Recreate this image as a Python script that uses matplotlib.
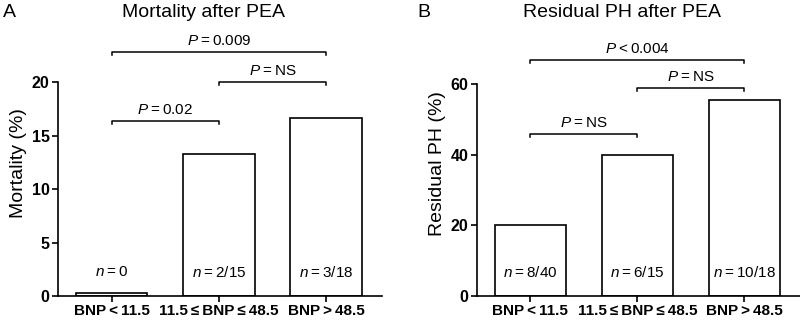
import matplotlib
matplotlib.use("Agg")
import matplotlib.pyplot as plt

plt.rcParams['font.family'] = ['Liberation Sans', 'DejaVu Sans']
plt.rcParams['mathtext.fontset'] = 'custom'
plt.rcParams['mathtext.rm'] = 'Liberation Sans'
plt.rcParams['mathtext.it'] = 'Liberation Sans:italic'

T = '\u2009'  # thin space
groups = ['BNP' + T + '<' + T + '11.5',
          '11.5' + T + '\u2264' + T + 'BNP' + T + '\u2264' + T + '48.5',
          'BNP' + T + '>' + T + '48.5']

mortality = [0.3, 13.33, 16.67]
mortality_n = ['0', '2/15', '3/18']
mortality_cmp = [(0, 1, 16.4, '=', '0.02'), (1, 2, 20.0, '=', 'NS'), (0, 2, 22.8, '=', '0.009')]

residual = [20.0, 40.0, 55.6]
residual_n = ['8/40', '6/15', '10/18']
residual_cmp = [(0, 1, 45.9, '=', 'NS'), (1, 2, 58.9, '=', 'NS'), (0, 2, 66.9, '<', '0.004')]

fig = plt.figure(figsize=(8, 3.2), dpi=100)


def panel(rect, vals, nlab, cmps, ymax, ytop, yticks, ylabel, title, drop):
    ax = fig.add_axes(rect)
    x = range(len(vals))
    ax.bar(x, vals, width=0.667, color='white', edgecolor='black', linewidth=1.2)
    ax.set_xlim(-0.5, 2.52)
    ax.set_ylim(0, ytop)
    ax.set_yticks(yticks)
    ax.set_yticklabels([str(t) for t in yticks], fontweight='bold', fontsize=11.5)
    ax.set_xticks(list(x))
    ax.set_xticklabels(groups, fontweight='bold', fontsize=11)
    ax.spines['top'].set_visible(False)
    ax.spines['right'].set_visible(False)
    ax.spines['left'].set_bounds(0, ymax)
    for s in ('left', 'bottom'):
        ax.spines[s].set_linewidth(1.2)
    ax.tick_params(direction='out', length=4, width=1.2, pad=2)
    ax.set_ylabel(ylabel, fontsize=14, labelpad=3)
    for i, v in enumerate(nlab):
        ax.annotate('$n$' + T + '=' + T + v, xy=(i, 0), xytext=(0, 17), textcoords='offset points',
                    ha='center', va='center', fontsize=11)
    for a, b, h, op, lab in cmps:
        ax.plot([a, a, b, b], [h - drop, h, h, h - drop], color='black', lw=1.1, clip_on=False)
        ax.annotate('$P$' + T + op + T + lab, xy=((a + b) / 2, h), xytext=(0, 5),
                    textcoords='offset points', ha='center', va='baseline', fontsize=11)
    fig.text(rect[0] + rect[2] * 0.45, 0.962, title, ha='center', va='center', fontsize=14)
    return ax


panel([0.0725, 0.075, 0.405, 0.83], mortality, mortality_n, mortality_cmp,
      20, 24.86, [0, 5, 10, 15, 20], 'Mortality (%)', 'Mortality after PEA', 0.28)
fig.text(0.004, 0.962, 'A', ha='left', va='center', fontsize=14)

panel([0.596, 0.075, 0.404, 0.83], residual, residual_n, residual_cmp,
      60, 75.3, [0, 20, 40, 60], 'Residual PH (%)', 'Residual PH after PEA', 0.85)
fig.text(0.522, 0.962, 'B', ha='left', va='center', fontsize=14)

fig.savefig('out.png', dpi=100)
